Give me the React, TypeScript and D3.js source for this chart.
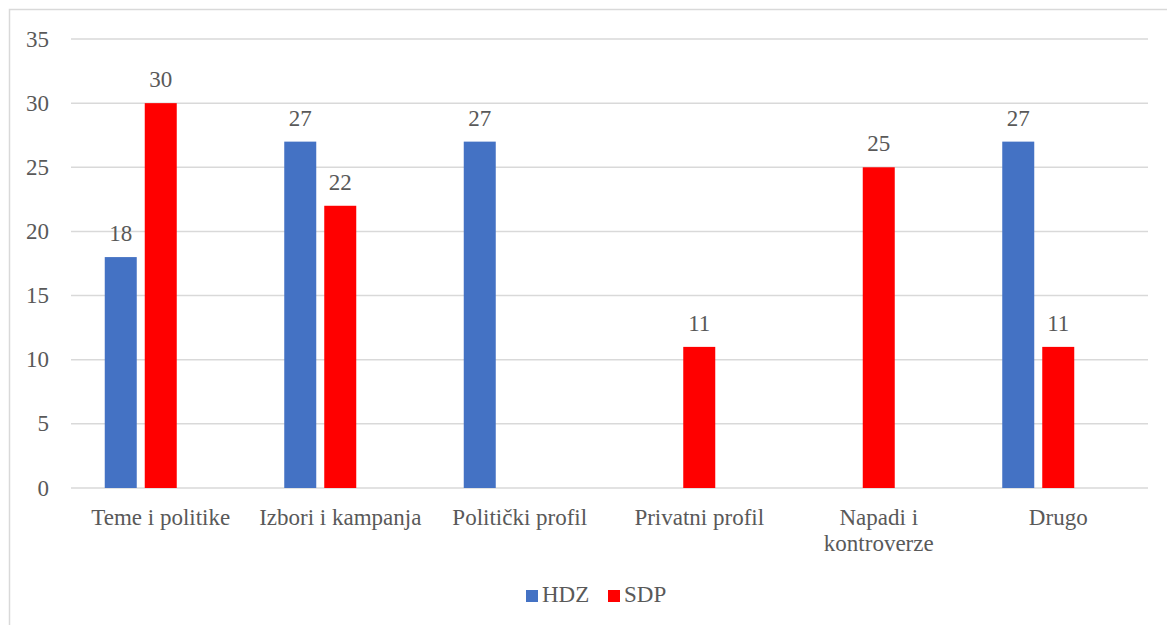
import React from "react";
import * as d3 from "d3";

const categories = ["Teme i politike", "Izbori i kampanja", "Politički profil", "Privatni profil", "Napadi i kontroverze", "Drugo"];
const categoryLines = [["Teme i politike"], ["Izbori i kampanja"], ["Politički profil"], ["Privatni profil"], ["Napadi i", "kontroverze"], ["Drugo"]];
const hdzValues: (number | null)[] = [18, 27, 27, null, null, 27];
const sdpValues: (number | null)[] = [30, 22, null, 11, 25, 11];
const seriesNames = ["HDZ", "SDP"];
const seriesColors = ["#4472C4", "#FF0000"];
const slotKeys = ["HDZ", "SDP", "empty"];
const yTicks = [0, 5, 10, 15, 20, 25, 30, 35];

export default function App() {
  const W = 1167, H = 625;
  const left = 71, right = 1148, top = 39, bottom = 488;
  const x0 = d3.scaleBand<string>().domain(categories).range([left, right]).padding(0);
  const bw = x0.bandwidth();
  const x1 = d3.scaleBand<string>().domain(slotKeys).range([bw / 2 - 56, bw / 2 + 56]).paddingInner(0.2).paddingOuter(0);
  const y = d3.scaleLinear().domain([0, 35]).range([bottom, top]);
  const series = [hdzValues, sdpValues];
  const font = "Liberation Serif";
  const textColor = "#595959";
  const fs = 23;
  const ts = { fontFamily: font };

  return (
    <svg width={W} height={H} style={{ position: "absolute", left: 0, top: 0 }}>
      <rect x={0} y={0} width={W} height={H} fill="#fff" />
      <rect x={9.5} y={9.5} width={1170} height={640} fill="#fff" stroke="#d9d9d9" strokeWidth={1.5} />
      {yTicks.map((t) => (
        <g key={t}>
          <line x1={left} x2={right} y1={y(t)} y2={y(t)} stroke="#d9d9d9" strokeWidth={1.5} />
          <text x={49} y={y(t)} dy="0.33em" textAnchor="end" fontSize={fs} fill={textColor} style={ts}>{t}</text>
        </g>
      ))}
      {categories.map((c, i) => (
        <g key={c}>
          {series.map((vals, s) => {
            const v = vals[i];
            if (v == null) return null;
            const bx = (x0(c) as number) + (x1(slotKeys[s]) as number);
            return (
              <g key={s}>
                <rect x={bx} y={y(v)} width={x1.bandwidth()} height={y(0) - y(v)} fill={seriesColors[s]} />
                <text x={bx + x1.bandwidth() / 2} y={y(v) - 16} textAnchor="middle" fontSize={fs} fill={textColor} style={ts}>{v}</text>
              </g>
            );
          })}
          {categoryLines[i].map((ln, k) => (
            <text key={k} x={(x0(c) as number) + bw / 2} y={525 + k * 26} textAnchor="middle" fontSize={fs} fill={textColor} style={ts}>{ln}</text>
          ))}
        </g>
      ))}
      {seriesNames.map((n, s) => {
        const lx = [526, 608][s];
        return (
          <g key={n}>
            <rect x={lx} y={590} width={12} height={12} fill={seriesColors[s]} />
            <text x={lx + 16} y={602} fontSize={fs} fill={textColor} style={ts}>{n}</text>
          </g>
        );
      })}
    </svg>
  );
}
